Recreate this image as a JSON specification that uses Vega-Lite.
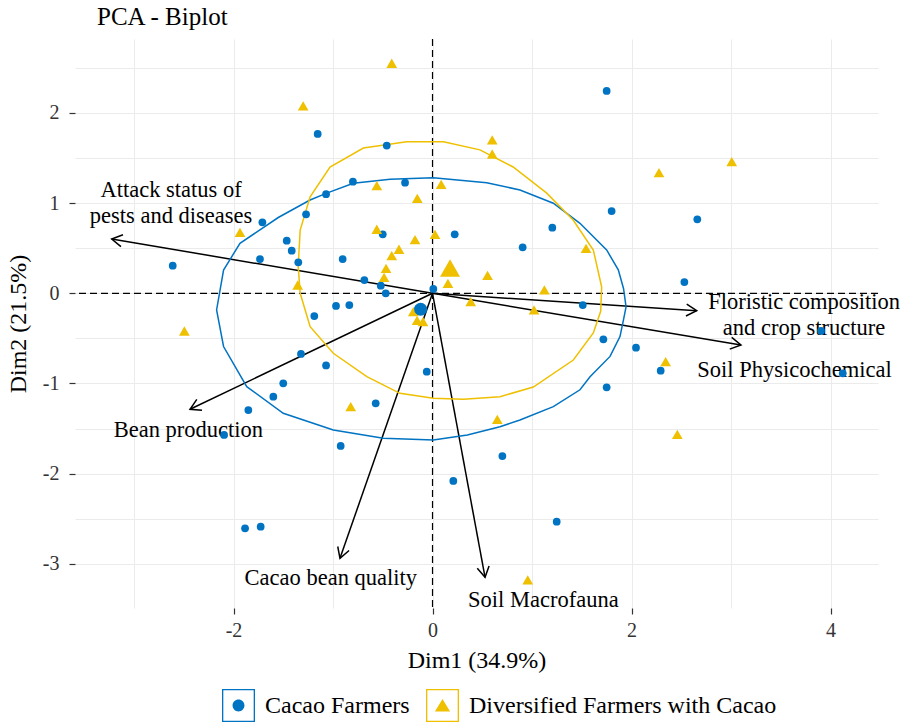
{
  "$schema": "https://vega.github.io/schema/vega-lite/v6.json",
  "autosize": "none",
  "padding": {"left": 75, "top": 39, "right": 27, "bottom": 115},
  "width": 803,
  "height": 569,
  "background": "white",
  "title": {"text": "PCA - Biplot", "anchor": "start", "frame": "group", "dx": 22, "offset": 8, "font": "Liberation Serif", "fontSize": 25, "fontWeight": "normal", "color": "black"},
  "config": {"view": {"stroke": null}, "font": "Liberation Serif"},
  "datasets": {
    "pts": [
      {"group": "Cacao Farmers", "Dim1": 1.75, "Dim2": 2.243},
      {"group": "Cacao Farmers", "Dim1": -1.154, "Dim2": 1.766},
      {"group": "Cacao Farmers", "Dim1": -0.46, "Dim2": 1.637},
      {"group": "Cacao Farmers", "Dim1": -0.8, "Dim2": 1.237},
      {"group": "Cacao Farmers", "Dim1": -0.276, "Dim2": 1.226},
      {"group": "Cacao Farmers", "Dim1": -1.07, "Dim2": 1.098},
      {"group": "Cacao Farmers", "Dim1": -1.271, "Dim2": 0.876},
      {"group": "Cacao Farmers", "Dim1": 1.8, "Dim2": 0.912},
      {"group": "Cacao Farmers", "Dim1": 2.661, "Dim2": 0.82},
      {"group": "Cacao Farmers", "Dim1": -1.71, "Dim2": 0.787},
      {"group": "Cacao Farmers", "Dim1": 1.204, "Dim2": 0.727},
      {"group": "Cacao Farmers", "Dim1": 0.223, "Dim2": 0.654},
      {"group": "Cacao Farmers", "Dim1": -0.5, "Dim2": 0.654},
      {"group": "Cacao Farmers", "Dim1": -1.465, "Dim2": 0.583},
      {"group": "Cacao Farmers", "Dim1": 0.906, "Dim2": 0.51},
      {"group": "Cacao Farmers", "Dim1": -1.415, "Dim2": 0.472},
      {"group": "Cacao Farmers", "Dim1": -1.734, "Dim2": 0.38},
      {"group": "Cacao Farmers", "Dim1": -0.903, "Dim2": 0.38},
      {"group": "Cacao Farmers", "Dim1": -1.349, "Dim2": 0.344},
      {"group": "Cacao Farmers", "Dim1": -2.611, "Dim2": 0.306},
      {"group": "Cacao Farmers", "Dim1": -0.685, "Dim2": 0.147},
      {"group": "Cacao Farmers", "Dim1": 2.531, "Dim2": 0.125},
      {"group": "Cacao Farmers", "Dim1": -0.52, "Dim2": 0.084},
      {"group": "Cacao Farmers", "Dim1": 0.008, "Dim2": 0.048},
      {"group": "Cacao Farmers", "Dim1": -0.47, "Dim2": 0.0},
      {"group": "Cacao Farmers", "Dim1": -0.97, "Dim2": -0.14},
      {"group": "Cacao Farmers", "Dim1": -0.836, "Dim2": -0.13},
      {"group": "Cacao Farmers", "Dim1": 1.51, "Dim2": -0.13},
      {"group": "Cacao Farmers", "Dim1": -1.188, "Dim2": -0.252},
      {"group": "Cacao Farmers", "Dim1": -0.143, "Dim2": -0.166},
      {"group": "Cacao Farmers", "Dim1": -0.1, "Dim2": -0.18},
      {"group": "Cacao Farmers", "Dim1": 3.904, "Dim2": -0.418},
      {"group": "Cacao Farmers", "Dim1": 1.717, "Dim2": -0.51},
      {"group": "Cacao Farmers", "Dim1": 2.045, "Dim2": -0.603},
      {"group": "Cacao Farmers", "Dim1": -1.322, "Dim2": -0.673},
      {"group": "Cacao Farmers", "Dim1": -1.07, "Dim2": -0.8},
      {"group": "Cacao Farmers", "Dim1": 2.293, "Dim2": -0.858},
      {"group": "Cacao Farmers", "Dim1": -0.058, "Dim2": -0.869},
      {"group": "Cacao Farmers", "Dim1": 4.123, "Dim2": -0.887},
      {"group": "Cacao Farmers", "Dim1": -1.5, "Dim2": -0.998},
      {"group": "Cacao Farmers", "Dim1": 1.75, "Dim2": -1.042},
      {"group": "Cacao Farmers", "Dim1": -1.6, "Dim2": -1.146},
      {"group": "Cacao Farmers", "Dim1": -0.571, "Dim2": -1.22},
      {"group": "Cacao Farmers", "Dim1": -1.851, "Dim2": -1.294},
      {"group": "Cacao Farmers", "Dim1": -2.095, "Dim2": -1.571},
      {"group": "Cacao Farmers", "Dim1": -0.923, "Dim2": -1.693},
      {"group": "Cacao Farmers", "Dim1": 0.702, "Dim2": -1.804},
      {"group": "Cacao Farmers", "Dim1": 0.209, "Dim2": -2.081},
      {"group": "Cacao Farmers", "Dim1": 1.248, "Dim2": -2.532},
      {"group": "Cacao Farmers", "Dim1": -1.884, "Dim2": -2.605},
      {"group": "Cacao Farmers", "Dim1": -1.727, "Dim2": -2.588},
      {"group": "Diversified Farmers with Cacao", "Dim1": -0.41, "Dim2": 2.55},
      {"group": "Diversified Farmers with Cacao", "Dim1": -1.3, "Dim2": 2.077},
      {"group": "Diversified Farmers with Cacao", "Dim1": 0.6, "Dim2": 1.7},
      {"group": "Diversified Farmers with Cacao", "Dim1": 0.6, "Dim2": 1.544},
      {"group": "Diversified Farmers with Cacao", "Dim1": 2.276, "Dim2": 1.337},
      {"group": "Diversified Farmers with Cacao", "Dim1": 3.007, "Dim2": 1.459},
      {"group": "Diversified Farmers with Cacao", "Dim1": -0.56, "Dim2": 1.193},
      {"group": "Diversified Farmers with Cacao", "Dim1": 0.087, "Dim2": 1.208},
      {"group": "Diversified Farmers with Cacao", "Dim1": -0.153, "Dim2": 1.053},
      {"group": "Diversified Farmers with Cacao", "Dim1": -1.935, "Dim2": 0.676},
      {"group": "Diversified Farmers with Cacao", "Dim1": -0.56, "Dim2": 0.71},
      {"group": "Diversified Farmers with Cacao", "Dim1": 0.025, "Dim2": 0.654},
      {"group": "Diversified Farmers with Cacao", "Dim1": -0.176, "Dim2": 0.595},
      {"group": "Diversified Farmers with Cacao", "Dim1": -0.337, "Dim2": 0.488},
      {"group": "Diversified Farmers with Cacao", "Dim1": -0.41, "Dim2": 0.417},
      {"group": "Diversified Farmers with Cacao", "Dim1": -0.467, "Dim2": 0.277},
      {"group": "Diversified Farmers with Cacao", "Dim1": -0.487, "Dim2": 0.177},
      {"group": "Diversified Farmers with Cacao", "Dim1": -1.355, "Dim2": 0.092},
      {"group": "Diversified Farmers with Cacao", "Dim1": 1.543, "Dim2": 0.499},
      {"group": "Diversified Farmers with Cacao", "Dim1": 0.553, "Dim2": 0.199},
      {"group": "Diversified Farmers with Cacao", "Dim1": 0.155, "Dim2": 0.11},
      {"group": "Diversified Farmers with Cacao", "Dim1": 1.124, "Dim2": 0.037},
      {"group": "Diversified Farmers with Cacao", "Dim1": 0.384, "Dim2": -0.093},
      {"group": "Diversified Farmers with Cacao", "Dim1": 1.02, "Dim2": -0.185},
      {"group": "Diversified Farmers with Cacao", "Dim1": -0.193, "Dim2": -0.204},
      {"group": "Diversified Farmers with Cacao", "Dim1": -0.155, "Dim2": -0.3},
      {"group": "Diversified Farmers with Cacao", "Dim1": -0.096, "Dim2": -0.315},
      {"group": "Diversified Farmers with Cacao", "Dim1": 2.343, "Dim2": -0.758},
      {"group": "Diversified Farmers with Cacao", "Dim1": 0.651, "Dim2": -1.397},
      {"group": "Diversified Farmers with Cacao", "Dim1": 2.46, "Dim2": -1.563},
      {"group": "Diversified Farmers with Cacao", "Dim1": 0.957, "Dim2": -3.178},
      {"group": "Diversified Farmers with Cacao", "Dim1": -2.494, "Dim2": -0.418},
      {"group": "Diversified Farmers with Cacao", "Dim1": -0.822, "Dim2": -1.257}
    ],
    "means": [
      {"group": "Cacao Farmers", "Dim1": -0.119, "Dim2": -0.177},
      {"group": "Diversified Farmers with Cacao", "Dim1": 0.176, "Dim2": 0.28}
    ],
    "ell": [
      {"group": "Cacao Farmers", "ord": 1, "Dim1": 1.945, "Dim2": -0.15},
      {"group": "Cacao Farmers", "ord": 2, "Dim1": 1.92, "Dim2": 0.05},
      {"group": "Cacao Farmers", "ord": 3, "Dim1": 1.867, "Dim2": 0.26},
      {"group": "Cacao Farmers", "ord": 4, "Dim1": 1.75, "Dim2": 0.48},
      {"group": "Cacao Farmers", "ord": 5, "Dim1": 1.482, "Dim2": 0.776},
      {"group": "Cacao Farmers", "ord": 6, "Dim1": 1.214, "Dim2": 0.998},
      {"group": "Cacao Farmers", "ord": 7, "Dim1": 0.879, "Dim2": 1.145},
      {"group": "Cacao Farmers", "ord": 8, "Dim1": 0.545, "Dim2": 1.226},
      {"group": "Cacao Farmers", "ord": 9, "Dim1": 0.008, "Dim2": 1.28},
      {"group": "Cacao Farmers", "ord": 10, "Dim1": -0.427, "Dim2": 1.264},
      {"group": "Cacao Farmers", "ord": 11, "Dim1": -0.796, "Dim2": 1.22},
      {"group": "Cacao Farmers", "ord": 12, "Dim1": -1.063, "Dim2": 1.11},
      {"group": "Cacao Farmers", "ord": 13, "Dim1": -1.231, "Dim2": 1.034},
      {"group": "Cacao Farmers", "ord": 14, "Dim1": -1.55, "Dim2": 0.84},
      {"group": "Cacao Farmers", "ord": 15, "Dim1": -1.935, "Dim2": 0.554},
      {"group": "Cacao Farmers", "ord": 16, "Dim1": -2.1, "Dim2": 0.258},
      {"group": "Cacao Farmers", "ord": 17, "Dim1": -2.17, "Dim2": -0.185},
      {"group": "Cacao Farmers", "ord": 18, "Dim1": -2.1, "Dim2": -0.59},
      {"group": "Cacao Farmers", "ord": 19, "Dim1": -1.867, "Dim2": -1.035},
      {"group": "Cacao Farmers", "ord": 20, "Dim1": -1.5, "Dim2": -1.33},
      {"group": "Cacao Farmers", "ord": 21, "Dim1": -0.997, "Dim2": -1.515},
      {"group": "Cacao Farmers", "ord": 22, "Dim1": -0.494, "Dim2": -1.608},
      {"group": "Cacao Farmers", "ord": 23, "Dim1": 0.008, "Dim2": -1.626},
      {"group": "Cacao Farmers", "ord": 24, "Dim1": 0.35, "Dim2": -1.57},
      {"group": "Cacao Farmers", "ord": 25, "Dim1": 0.678, "Dim2": -1.48},
      {"group": "Cacao Farmers", "ord": 26, "Dim1": 0.879, "Dim2": -1.405},
      {"group": "Cacao Farmers", "ord": 27, "Dim1": 1.214, "Dim2": -1.257},
      {"group": "Cacao Farmers", "ord": 28, "Dim1": 1.482, "Dim2": -1.07},
      {"group": "Cacao Farmers", "ord": 29, "Dim1": 1.583, "Dim2": -0.925},
      {"group": "Cacao Farmers", "ord": 30, "Dim1": 1.784, "Dim2": -0.7},
      {"group": "Cacao Farmers", "ord": 31, "Dim1": 1.884, "Dim2": -0.48},
      {"group": "Cacao Farmers", "ord": 32, "Dim1": 1.918, "Dim2": -0.3},
      {"group": "Cacao Farmers", "ord": 33, "Dim1": 1.945, "Dim2": -0.15},
      {"group": "Diversified Farmers with Cacao", "ord": 1, "Dim1": 1.7, "Dim2": 0.07},
      {"group": "Diversified Farmers with Cacao", "ord": 2, "Dim1": 1.616, "Dim2": 0.48},
      {"group": "Diversified Farmers with Cacao", "ord": 3, "Dim1": 1.415, "Dim2": 0.81},
      {"group": "Diversified Farmers with Cacao", "ord": 4, "Dim1": 1.148, "Dim2": 1.11},
      {"group": "Diversified Farmers with Cacao", "ord": 5, "Dim1": 0.81, "Dim2": 1.4},
      {"group": "Diversified Farmers with Cacao", "ord": 6, "Dim1": 0.477, "Dim2": 1.59},
      {"group": "Diversified Farmers with Cacao", "ord": 7, "Dim1": 0.11, "Dim2": 1.68},
      {"group": "Diversified Farmers with Cacao", "ord": 8, "Dim1": -0.26, "Dim2": 1.68},
      {"group": "Diversified Farmers with Cacao", "ord": 9, "Dim1": -0.695, "Dim2": 1.61},
      {"group": "Diversified Farmers with Cacao", "ord": 10, "Dim1": -1.03, "Dim2": 1.4},
      {"group": "Diversified Farmers with Cacao", "ord": 11, "Dim1": -1.23, "Dim2": 1.07},
      {"group": "Diversified Farmers with Cacao", "ord": 12, "Dim1": -1.33, "Dim2": 0.7},
      {"group": "Diversified Farmers with Cacao", "ord": 13, "Dim1": -1.35, "Dim2": 0.3},
      {"group": "Diversified Farmers with Cacao", "ord": 14, "Dim1": -1.33, "Dim2": 0.0},
      {"group": "Diversified Farmers with Cacao", "ord": 15, "Dim1": -1.23, "Dim2": -0.37},
      {"group": "Diversified Farmers with Cacao", "ord": 16, "Dim1": -0.997, "Dim2": -0.665},
      {"group": "Diversified Farmers with Cacao", "ord": 17, "Dim1": -0.66, "Dim2": -0.925},
      {"group": "Diversified Farmers with Cacao", "ord": 18, "Dim1": -0.327, "Dim2": -1.109},
      {"group": "Diversified Farmers with Cacao", "ord": 19, "Dim1": 0.008, "Dim2": -1.164},
      {"group": "Diversified Farmers with Cacao", "ord": 20, "Dim1": 0.31, "Dim2": -1.175},
      {"group": "Diversified Farmers with Cacao", "ord": 21, "Dim1": 0.678, "Dim2": -1.146},
      {"group": "Diversified Farmers with Cacao", "ord": 22, "Dim1": 1.013, "Dim2": -1.04},
      {"group": "Diversified Farmers with Cacao", "ord": 23, "Dim1": 1.415, "Dim2": -0.74},
      {"group": "Diversified Farmers with Cacao", "ord": 24, "Dim1": 1.616, "Dim2": -0.44},
      {"group": "Diversified Farmers with Cacao", "ord": 25, "Dim1": 1.69, "Dim2": -0.2},
      {"group": "Diversified Farmers with Cacao", "ord": 26, "Dim1": 1.7, "Dim2": 0.07}
    ],
    "vars": [
      {"var": "Attack status of pests and diseases", "Dim1": -3.224, "Dim2": 0.602, "o1": 0, "o2": 0},
      {"var": "Bean production", "Dim1": -2.437, "Dim2": -1.286, "o1": 0, "o2": 0},
      {"var": "Cacao bean quality", "Dim1": -0.93, "Dim2": -2.938, "o1": 0, "o2": 0},
      {"var": "Soil Macrofauna", "Dim1": 0.528, "Dim2": -3.149, "o1": 0, "o2": 0},
      {"var": "Floristic composition and crop structure", "Dim1": 2.655, "Dim2": -0.193, "o1": 0, "o2": 0},
      {"var": "Soil Physicochemical", "Dim1": 3.1, "Dim2": -0.573, "o1": 0, "o2": 0}
    ],
    "labels": [
      {"label": ["Attack status of", "pests and diseases"], "Dim1": -2.628, "Dim2": 1.145},
      {"label": ["Bean production"], "Dim1": -2.454, "Dim2": -1.516},
      {"label": ["Cacao bean quality"], "Dim1": -1.022, "Dim2": -3.157},
      {"label": ["Soil Macrofauna"], "Dim1": 1.114, "Dim2": -3.395},
      {"label": ["Floristic composition", "and crop structure"], "Dim1": 3.734, "Dim2": -0.093},
      {"label": ["Soil Physicochemical"], "Dim1": 3.638, "Dim2": -0.845}
    ],
    "zero": [{"z": 0}]
  },
  "layer": [
    {
      "data": {"name": "pts"},
      "mark": {"type": "point", "opacity": 0},
      "encoding": {
        "x": {
          "field": "Dim1", "type": "quantitative",
          "scale": {"domain": [-3.593, 4.477], "nice": false, "zero": false},
          "axis": {
            "title": "Dim1 (34.9%)",
            "values": [-3, -2, -1, 0, 1, 2, 3, 4],
            "labelExpr": "datum.value % 2 === 0 ? '' + datum.value : ''",
            "tickOpacity": {"condition": {"test": "datum.value % 2 !== 0", "value": 0}, "value": 1},
            "domain": false,
            "grid": true, "gridColor": "#EBEBEB", "gridWidth": 1,
            "ticks": true, "tickColor": "#333333", "tickSize": 6, "tickWidth": 1.2,
            "labelFont": "Liberation Serif", "labelFontSize": 20, "labelColor": "#333333", "labelPadding": 6, "labelOverlap": false,
            "titleFont": "Liberation Serif", "titleFontSize": 24, "titleFontWeight": "normal", "titleColor": "black", "titlePadding": 8
          }
        },
        "y": {
          "field": "Dim2", "type": "quantitative",
          "scale": {"domain": [-3.489, 2.819], "nice": false, "zero": false},
          "axis": {
            "title": "Dim2 (21.5%)",
            "values": [-3, -2.5, -2, -1.5, -1, -0.5, 0, 0.5, 1, 1.5, 2, 2.5],
            "labelExpr": "datum.value % 1 === 0 ? '' + datum.value : ''",
            "tickOpacity": {"condition": {"test": "datum.value % 1 !== 0", "value": 0}, "value": 1},
            "domain": false,
            "grid": true, "gridColor": "#EBEBEB", "gridWidth": 1,
            "ticks": true, "tickColor": "#333333", "tickSize": 6, "tickWidth": 1.2,
            "labelFont": "Liberation Serif", "labelFontSize": 20, "labelColor": "#333333", "labelPadding": 10, "labelOverlap": false,
            "titleFont": "Liberation Serif", "titleFontSize": 24, "titleFontWeight": "normal", "titleColor": "black", "titlePadding": 12
          }
        }
      }
    },
    {
      "data": {"name": "zero"},
      "mark": {"type": "rule", "color": "black", "strokeWidth": 1.2, "strokeDash": [7, 4]},
      "encoding": {"x": {"field": "z", "type": "quantitative"}}
    },
    {
      "data": {"name": "zero"},
      "mark": {"type": "rule", "color": "black", "strokeWidth": 1.2, "strokeDash": [7, 4]},
      "encoding": {"y": {"field": "z", "type": "quantitative"}}
    },
    {
      "data": {"name": "vars"},
      "mark": {"type": "rule", "color": "black", "strokeWidth": 1.5},
      "encoding": {
        "x": {"field": "o1", "type": "quantitative"},
        "y": {"field": "o2", "type": "quantitative"},
        "x2": {"field": "Dim1"},
        "y2": {"field": "Dim2"}
      }
    },
    {
      "data": {"name": "vars"},
      "transform": [{"calculate": "atan2(datum.Dim1 * 99.5, datum.Dim2 * 90.2) * 180 / PI", "as": "ang"}],
      "mark": {"type": "point", "shape": "M-0.5,0.866L0,0L0.5,0.866", "filled": false, "stroke": "black", "strokeWidth": 1.5, "size": 576, "opacity": 1},
      "encoding": {
        "x": {"field": "Dim1", "type": "quantitative"},
        "y": {"field": "Dim2", "type": "quantitative"},
        "angle": {"field": "ang", "type": "quantitative", "scale": null}
      }
    },
    {
      "data": {"name": "labels"},
      "mark": {"type": "text", "font": "Liberation Serif", "fontSize": 22.5, "color": "black", "align": "center", "baseline": "middle", "lineHeight": 26},
      "encoding": {
        "x": {"field": "Dim1", "type": "quantitative"},
        "y": {"field": "Dim2", "type": "quantitative"},
        "text": {"field": "label", "type": "nominal"}
      }
    },
    {
      "data": {"name": "ell"},
      "mark": {"type": "line", "strokeWidth": 1.5, "interpolate": "linear"},
      "encoding": {
        "x": {"field": "Dim1", "type": "quantitative"},
        "y": {"field": "Dim2", "type": "quantitative"},
        "order": {"field": "ord", "type": "quantitative"},
        "color": {"field": "group", "type": "nominal", "scale": {"domain": ["Cacao Farmers", "Diversified Farmers with Cacao"], "range": ["#0073C2", "#EFC000"]}, "legend": null}
      }
    },
    {
      "data": {"name": "pts"},
      "mark": {"type": "point", "filled": true, "opacity": 1},
      "encoding": {
        "x": {"field": "Dim1", "type": "quantitative"},
        "y": {"field": "Dim2", "type": "quantitative"},
        "color": {"field": "group", "type": "nominal", "scale": {"domain": ["Cacao Farmers", "Diversified Farmers with Cacao"], "range": ["#0073C2", "#EFC000"]}, "legend": null},
        "shape": {"field": "group", "type": "nominal", "scale": {"domain": ["Cacao Farmers", "Diversified Farmers with Cacao"], "range": ["circle", "triangle-up"]}, "legend": null},
        "size": {"field": "group", "type": "nominal", "scale": {"domain": ["Cacao Farmers", "Diversified Farmers with Cacao"], "range": [60, 115]}, "legend": null}
      }
    },
    {
      "data": {"name": "means"},
      "mark": {"type": "point", "filled": true, "opacity": 1},
      "encoding": {
        "x": {"field": "Dim1", "type": "quantitative"},
        "y": {"field": "Dim2", "type": "quantitative"},
        "color": {"field": "group", "type": "nominal", "scale": {"domain": ["Cacao Farmers", "Diversified Farmers with Cacao"], "range": ["#0073C2", "#EFC000"]}, "legend": null},
        "shape": {"field": "group", "type": "nominal", "scale": {"domain": ["Cacao Farmers", "Diversified Farmers with Cacao"], "range": ["circle", "triangle-up"]}, "legend": null},
        "size": {"field": "group", "type": "nominal", "scale": {"domain": ["Cacao Farmers", "Diversified Farmers with Cacao"], "range": [170, 400]}, "legend": null}
      }
    },
    {
      "data": {"name": "means"},
      "transform": [{"filter": "datum.Dim1 > 100"}],
      "mark": {"type": "point", "filled": true, "opacity": 1},
      "encoding": {
        "x": {"field": "Dim1", "type": "quantitative"},
        "y": {"field": "Dim2", "type": "quantitative"},
        "color": {
          "field": "group", "type": "nominal",
          "scale": {"domain": ["Cacao Farmers", "Diversified Farmers with Cacao"], "range": ["#0073C2", "#EFC000"]},
          "legend": {"title": null, "orient": "none", "legendX": 147, "legendY": 650, "direction": "horizontal", "symbolSize": 1089, "symbolStrokeWidth": 0, "labelFont": "Liberation Serif", "labelFontSize": 24, "labelColor": "black", "labelOffset": 10, "columnPadding": 16, "labelLimit": 500}
        },
        "shape": {
          "field": "group", "type": "nominal",
          "scale": {"domain": ["Cacao Farmers", "Diversified Farmers with Cacao"], "range": ["M-1,-1L1,-1L1,1L-1,1Z M-0.92,-0.92L-0.92,0.92L0.92,0.92L0.92,-0.92Z M-0.36,0A0.36,0.36,0,1,0,0.36,0A0.36,0.36,0,1,0,-0.36,0Z", "M-1,-1L1,-1L1,1L-1,1Z M-0.92,-0.92L-0.92,0.92L0.92,0.92L0.92,-0.92Z M0,-0.4L0.46,0.37L-0.46,0.37Z"]},
          "legend": {"title": null, "orient": "none", "legendX": 147, "legendY": 650, "direction": "horizontal", "symbolSize": 1089, "symbolStrokeWidth": 0, "labelFont": "Liberation Serif", "labelFontSize": 24, "labelColor": "black", "labelOffset": 10, "columnPadding": 16, "labelLimit": 500}
        }
      }
    }
  ],
  "resolve": {"scale": {"color": "independent", "shape": "independent", "size": "independent"}}
}
